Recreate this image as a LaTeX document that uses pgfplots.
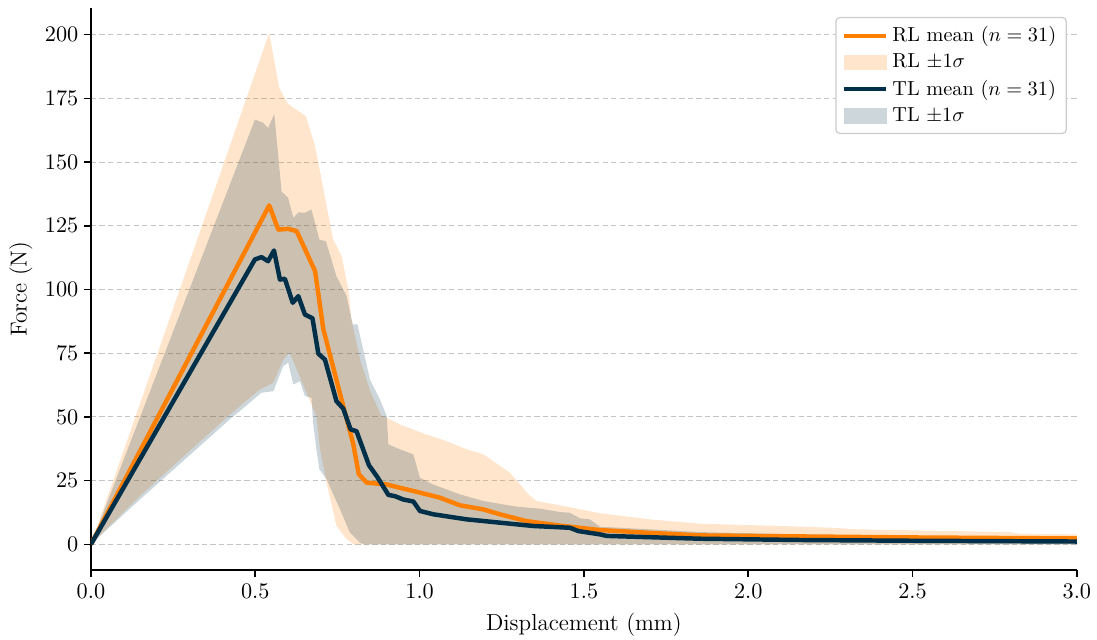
\documentclass[border=0pt]{standalone}
\usepackage{pgfplots}
\pgfplotsset{compat=1.18}
\usepackage{pgfplotstable}
\usepgfplotslibrary{fillbetween}
\definecolor{rlc}{RGB}{255,127,0}
\definecolor{tlc}{RGB}{0,48,73}
\definecolor{gridc}{RGB}{196,196,196}

\pgfplotstableread{
x y
0 0
0.5425 133
0.570 123.5
0.600 123.8
0.626 122.9
0.682 107.2
0.707 84.5
0.758 59
0.798 39.5
0.815 27.5
0.839 24.2
0.90 23.5
0.94 22.2
1.001 20.3
1.062 18.3
1.123 15.3
1.194 13.7
1.244 11.8
1.325 9.1
1.43 7.3
1.549 5.6
1.70 4.5
1.853 3.5
2.157 3.1
2.5 2.7
3.0 2.3
}\rlmean

\pgfplotstableread{
x y
0 0
0.5425 200.7
0.573 179
0.600 172.8
0.654 168
0.682 156.2
0.737 119.6
0.763 113
0.783 100
0.793 88
0.82 72
0.85 60
0.884 50.3
0.90 49.7
0.94 47
1.021 43.1
1.082 40.5
1.143 37.3
1.194 35.3
1.275 28.1
1.331 19.6
1.356 17
1.427 15.3
1.498 13.5
1.549 12.2
1.701 9.8
1.853 8.1
2.096 7.2
2.258 6.5
2.33 5.9
2.796 4.8
2.826 4.2
3.0 3.9
}\rlupper

\pgfplotstableread{
x y
0 0
0.149 19
0.286 35
0.428 51.5
0.514 60.8
0.555 63.4
0.585 72.5
0.605 75.2
0.686 50.3
0.697 37.3
0.717 24.2
0.747 7.2
0.778 2
0.80 0
3.0 0
}\rllower

\pgfplotstableread{
x y
0 0
0.499 111.8
0.519 112.7
0.539 111.1
0.557 115.3
0.575 103.9
0.590 104.2
0.614 94.8
0.631 97.4
0.651 90.2
0.674 88.7
0.692 74.8
0.712 72.5
0.747 56.2
0.768 53.2
0.790 45.1
0.808 44.4
0.846 31
0.871 26.5
0.905 19.4
0.925 18.9
0.950 17.6
0.981 16.8
1.001 13.1
1.041 11.8
1.143 9.8
1.244 8.5
1.346 7.2
1.457 6.5
1.483 5.2
1.549 3.9
1.569 3.3
1.853 2.2
2.157 1.7
2.5 1.4
3.0 1.1
}\tlmean

\pgfplotstableread{
x y
0 0
0.499 166.7
0.524 165.4
0.539 163.4
0.558 168.9
0.580 138.5
0.600 136
0.616 128.1
0.631 130.3
0.651 130.1
0.671 131.4
0.695 119.6
0.715 118.9
0.747 105.2
0.778 97.4
0.793 88.2
0.797 86.3
0.811 86.3
0.849 64.7
0.879 56.9
0.900 50.3
0.905 39.2
0.940 37.3
0.981 35.3
1.001 26.1
1.041 23.5
1.123 19.6
1.194 17
1.295 14.8
1.366 14
1.427 12.7
1.457 12.4
1.488 10.2
1.518 9.8
1.549 6.9
1.701 5.9
1.853 4.8
2.2 3.8
2.6 3.2
3.0 2.7
}\tlupper

\pgfplotstableread{
x y
0 0
0.149 17.6
0.286 33.3
0.428 49.7
0.453 52.3
0.519 59.5
0.555 60.1
0.585 69.9
0.600 71.3
0.616 62.7
0.636 64
0.651 58.2
0.671 57.5
0.676 47.7
0.686 37.3
0.695 29.5
0.717 25.5
0.758 13.7
0.788 4.6
0.818 0.7
0.83 0
3.0 0
}\tllower

\begin{document}
\begin{tikzpicture}
\begin{axis}[
  scale only axis,
  width=485.7pt, height=276.8pt,
  xmin=0, xmax=3, ymin=-10, ymax=210.5,
  axis x line*=bottom, axis y line*=left,
  axis line style={line width=0.9pt, black, -},
  xtick={0,0.5,1,1.5,2,2.5,3},
  ytick={0,25,50,75,100,125,150,175,200},
  xticklabel style={/pgf/number format/.cd, fixed, fixed zerofill, precision=1},
  yticklabel style={xshift=0.8pt},
  tick label style={font=\fontsize{10.5}{12}\selectfont},
  tick align=outside,
  major tick length=3.5pt,
  every tick/.style={black, line width=0.8pt},
  ymajorgrids,
  major grid style={gridc, dash pattern=on 2.6pt off 1.6pt, line width=0.5pt},
  xlabel={Displacement (mm)},
  ylabel={Force (N)},
  every axis x label/.style={at={(axis description cs:0.5,-0.098)}, anchor=center, font=\fontsize{11.4}{13}\selectfont},
  every axis y label/.style={at={(axis description cs:-0.0711,0.5)}, anchor=center, rotate=90, font=\fontsize{11.4}{13}\selectfont},
  legend cell align=left,
  legend style={at={(rel axis cs:1,1)}, anchor=north east, xshift=-4.9pt, yshift=-4.4pt,
    draw=black!20, fill=white, rounded corners=2pt, line width=0.6pt,
    font=\fontsize{10}{12}\selectfont, row sep=0.5pt, inner xsep=3pt, inner ysep=2.5pt},
]
\addlegendimage{legend image code/.code={\draw[rlc, line width=2.1pt, sharp corners] (0pt,0pt) -- (20.7pt,0pt);}}
\addlegendentry{RL mean ($n=31$)}
\addlegendimage{legend image code/.code={\fill[rlc!20, sharp corners] (0pt,-3.5pt) rectangle (20.7pt,3.5pt);}}
\addlegendentry{RL $\pm1\sigma$}
\addlegendimage{legend image code/.code={\draw[tlc, line width=2.1pt, sharp corners] (0pt,0pt) -- (20.7pt,0pt);}}
\addlegendentry{TL mean ($n=31$)}
\addlegendimage{legend image code/.code={\fill[tlc!20, sharp corners] (0pt,-3.5pt) rectangle (20.7pt,3.5pt);}}
\addlegendentry{TL $\pm1\sigma$}

\addplot[name path=rlu, draw=none, forget plot] table {\rlupper};
\addplot[name path=rll, draw=none, forget plot] table {\rllower};
\addplot[fill=rlc, fill opacity=0.2, draw=none, forget plot] fill between[of=rlu and rll];
\addplot[name path=tlu, draw=none, forget plot] table {\tlupper};
\addplot[name path=tll, draw=none, forget plot] table {\tllower};
\addplot[fill=tlc, fill opacity=0.2, draw=none, forget plot] fill between[of=tlu and tll];

\addplot[rlc, line width=2.2pt, line join=round, forget plot] table {\rlmean};
\addplot[tlc, line width=2.2pt, line join=round, forget plot] table {\tlmean};
\end{axis}
\pgfresetboundingbox
\path[use as bounding box] (-44.8pt,-34.5pt) rectangle (495.6pt,280.7pt);
\end{tikzpicture}
\end{document}
